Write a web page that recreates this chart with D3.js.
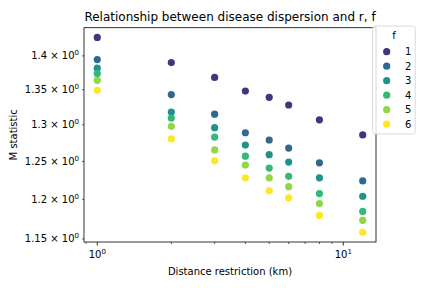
<!DOCTYPE html>
<html>
<head>
<meta charset="utf-8">
<script src="https://cdn.jsdelivr.net/npm/d3@7"></script>
<style>
  body { margin: 0; background: #fff; }
  text { font-family: "DejaVu Sans", sans-serif; fill: #000; }
</style>
</head>
<body>
<svg id="chart" width="432" height="288"></svg>
<script>
// distance restriction (km)
const distances = [1, 2, 3, 4, 5, 6, 8, 12];
const fLevels = ["1", "2", "3", "4", "5", "6"];
// M statistic per f level, one value per distance
const mF1 = [1.428, 1.390, 1.368, 1.348, 1.339, 1.328, 1.307, 1.286];
const mF2 = [1.3945, 1.343, 1.315, 1.289, 1.279, 1.268, 1.248, 1.224];
const mF3 = [1.3816, 1.318, 1.296, 1.272, 1.259, 1.249, 1.228, 1.204];
const mF4 = [1.3739, 1.3095, 1.283, 1.257, 1.241, 1.230, 1.2075, 1.1845];
const mF5 = [1.3637, 1.298, 1.2655, 1.245, 1.228, 1.2165, 1.1946, 1.1732];
const mF6 = [1.3492, 1.2805, 1.2507, 1.228, 1.211, 1.202, 1.1794, 1.1583];
const yTicks = [1.15, 1.2, 1.25, 1.3, 1.35, 1.4];
const yTickLabels = ["1.15", "1.2", "1.25", "1.3", "1.35", "1.4"];
const colors = ["#46337e", "#31688e", "#21918c", "#35b779", "#8fd744", "#fde725"];

const series = [mF1, mF2, mF3, mF4, mF5, mF6];

const svg = d3.select("#chart");
const margin = { top: 27.7, right: 56, bottom: 46, left: 84 };
const W = 432, H = 288;
const x0 = margin.left, x1 = W - margin.right;
const y0 = H - margin.bottom, y1 = margin.top;
const dotR = 3.6;

// matplotlib-like 5% margins in log space
function logPad(ext) {
  const a = Math.log(ext[0]), b = Math.log(ext[1]);
  const p = (b - a) * 0.05;
  return [Math.exp(a - p), Math.exp(b + p)];
}
const allM = series.flat();
const xScale = d3.scaleLog().domain(logPad(d3.extent(distances))).range([x0, x1]);
const yScale = d3.scaleLog().domain(logPad(d3.extent(allM))).range([y0, y1]);

// points
series.forEach((vals, i) => {
  svg.append("g")
    .selectAll("circle")
    .data(vals)
    .enter()
    .append("circle")
    .attr("cx", (d, j) => xScale(distances[j]))
    .attr("cy", d => yScale(d))
    .attr("r", dotR)
    .attr("fill", colors[i]);
});

// x axis
const xMajor = [1, 10];
const xMinor = [0.9, 2, 3, 4, 5, 6, 7, 8, 9].filter(v => xScale(v) >= x0 && xScale(v) <= x1);
const xAxisG = svg.append("g");
xAxisG.selectAll(".xmaj").data(xMajor).enter().append("line")
  .attr("x1", d => xScale(d)).attr("x2", d => xScale(d))
  .attr("y1", y0).attr("y2", y0 + 3.5)
  .attr("stroke", "#000").attr("stroke-width", 0.8);
xAxisG.selectAll(".xmin").data(xMinor).enter().append("line")
  .attr("x1", d => xScale(d)).attr("x2", d => xScale(d))
  .attr("y1", y0).attr("y2", y0 + 2)
  .attr("stroke", "#000").attr("stroke-width", 0.6);
xMajor.forEach((v, i) => {
  const t = xAxisG.append("text")
    .attr("x", xScale(v))
    .attr("y", y0 + 16)
    .attr("text-anchor", "middle")
    .style("font-size", "10px");
  t.append("tspan").text("10");
  t.append("tspan").attr("dy", -4).style("font-size", "7px").text(String(i));
});

// y axis (minor ticks labelled, like matplotlib)
const yAxisG = svg.append("g");
yAxisG.selectAll("line").data(yTicks).enter().append("line")
  .attr("x1", x0 - 2).attr("x2", x0)
  .attr("y1", d => yScale(d)).attr("y2", d => yScale(d))
  .attr("stroke", "#000").attr("stroke-width", 0.6);
yTicks.forEach((v, i) => {
  const t = yAxisG.append("text")
    .attr("x", x0 - 5)
    .attr("y", yScale(v) + 3.5)
    .attr("text-anchor", "end")
    .style("font-size", "10px");
  t.append("tspan").text(yTickLabels[i] + " \u00d7 10");
  t.append("tspan").attr("dy", -4).style("font-size", "7px").text("0");
});

// frame
svg.append("rect")
  .attr("x", x0).attr("y", y1)
  .attr("width", x1 - x0).attr("height", y0 - y1)
  .attr("fill", "none").attr("stroke", "#000").attr("stroke-width", 0.8);

// labels
svg.append("text")
  .attr("x", (x0 + x1) / 2).attr("y", 21)
  .attr("text-anchor", "middle")
  .style("font-size", "12px")
  .text("Relationship between disease dispersion and r, f");
svg.append("text")
  .attr("x", (x0 + x1) / 2).attr("y", 275)
  .attr("text-anchor", "middle")
  .style("font-size", "10px")
  .text("Distance restriction (km)");
svg.append("text")
  .attr("transform", `translate(17, ${(y0 + y1) / 2}) rotate(-90)`)
  .attr("text-anchor", "middle")
  .style("font-size", "10px")
  .text("M statistic");

// legend
const lg = svg.append("g");
lg.append("rect")
  .attr("x", 372.7).attr("y", 26)
  .attr("width", 42.5).attr("height", 108)
  .attr("rx", 2.5)
  .attr("fill", "#fff").attr("fill-opacity", 0.8)
  .attr("stroke", "#d0d0d0").attr("stroke-width", 0.8);
lg.append("text")
  .attr("x", 393.9).attr("y", 39)
  .attr("text-anchor", "middle")
  .style("font-size", "10px")
  .text("f");
fLevels.forEach((f, i) => {
  const cy = 51.7 + i * 14.5;
  lg.append("circle").attr("cx", 386.7).attr("cy", cy).attr("r", dotR).attr("fill", colors[i]);
  lg.append("text").attr("x", 405).attr("y", cy + 3.5).style("font-size", "10px").text(f);
});
</script>
</body>
</html>
